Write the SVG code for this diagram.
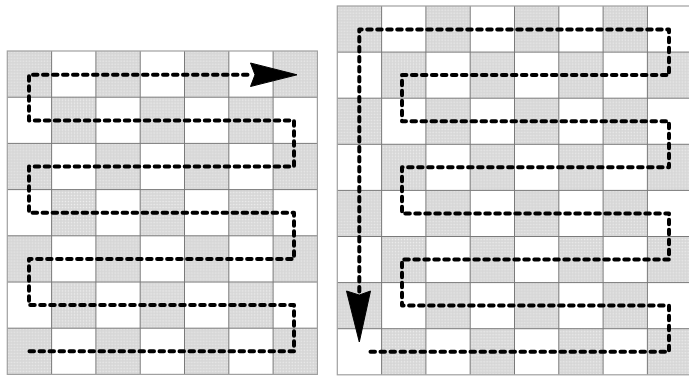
<svg xmlns="http://www.w3.org/2000/svg" width="689" height="376" viewBox="0 0 689 376">
  <defs>
    <pattern id="dots" width="3" height="3" patternUnits="userSpaceOnUse">
      <rect width="3" height="3" fill="#d6d6d6"/>
      <rect x="0.5" y="0.5" width="1.3" height="1.3" fill="#efefef"/>
    </pattern>
    <pattern id="checkL" width="88.6" height="92.4" patternUnits="userSpaceOnUse">
      <rect x="0" y="0" width="44.3" height="46.2" fill="url(#dots)"/>
      <rect x="44.3" y="46.2" width="44.3" height="46.2" fill="url(#dots)"/>
    </pattern>
    <pattern id="checkR" width="88.6" height="92.2" patternUnits="userSpaceOnUse">
      <rect x="0" y="0" width="44.3" height="46.1" fill="url(#dots)"/>
      <rect x="44.3" y="46.1" width="44.3" height="46.1" fill="url(#dots)"/>
    </pattern>
  </defs>
  <style>
    .grid { fill: none; stroke: #7a7a7a; stroke-width: 1; }
    .border { fill: none; stroke: #a0a0a0; stroke-width: 1.2; }
    .route { fill: none; stroke: #000; stroke-width: 4; stroke-dasharray: 4.5 5.5; stroke-linecap: round; stroke-linejoin: round; }
    .head { fill: #000; stroke: #000; stroke-width: 1; stroke-linejoin: round; }
  </style>
  <rect width="689" height="376" fill="#fff"/>

  <g id="grid-left">
    <g transform="translate(7.3,51)">
      <rect x="0" y="0" width="310.1" height="323.4" fill="#fff"/>
      <rect x="0" y="0" width="310.1" height="323.4" fill="url(#checkL)"/>
    </g>
    <path class="grid" d="M51.6,51V374.4M95.9,51V374.4M140.2,51V374.4M184.5,51V374.4M228.8,51V374.4M273.1,51V374.4M7.3,97.2H317.4M7.3,143.4H317.4M7.3,189.6H317.4M7.3,235.8H317.4M7.3,282H317.4M7.3,328.2H317.4"/>
    <rect class="border" x="7.3" y="51" width="310.1" height="323.4"/>
  </g>

  <g id="grid-right">
    <g transform="translate(337.3,6)">
      <rect x="0" y="0" width="354.4" height="368.8" fill="#fff"/>
      <rect x="0" y="0" width="354.4" height="368.8" fill="url(#checkR)"/>
    </g>
    <path class="grid" d="M381.6,6V374.8M425.9,6V374.8M470.2,6V374.8M514.5,6V374.8M558.8,6V374.8M603.1,6V374.8M647.4,6V374.8M337.3,52.1H691.7M337.3,98.2H691.7M337.3,144.3H691.7M337.3,190.4H691.7M337.3,236.5H691.7M337.3,282.6H691.7M337.3,328.7H691.7"/>
    <rect class="border" x="337.3" y="6" width="354.4" height="368.8"/>
  </g>

  <g id="connectors">
    <path id="route-left" class="route" d="M29.5,351.3H294V305.1H29V258.9H294V212.7H29V166.5H294V120.5H29V74.8H252"/>
    <polygon id="arrow-left" class="head" points="250.5,63 297,74.8 250.5,86.5 255,74.8"/>
    <path id="route-right" class="route" d="M370.5,351.7H669V305.6H402V259.5H669V213.4H402V167.3H669V121.2H402V75.1H669V29.5H359.3V293"/>
    <polygon id="arrow-right" class="head" points="346.5,291 359.3,342 370.5,291 359.3,295"/>
  </g>
</svg>
